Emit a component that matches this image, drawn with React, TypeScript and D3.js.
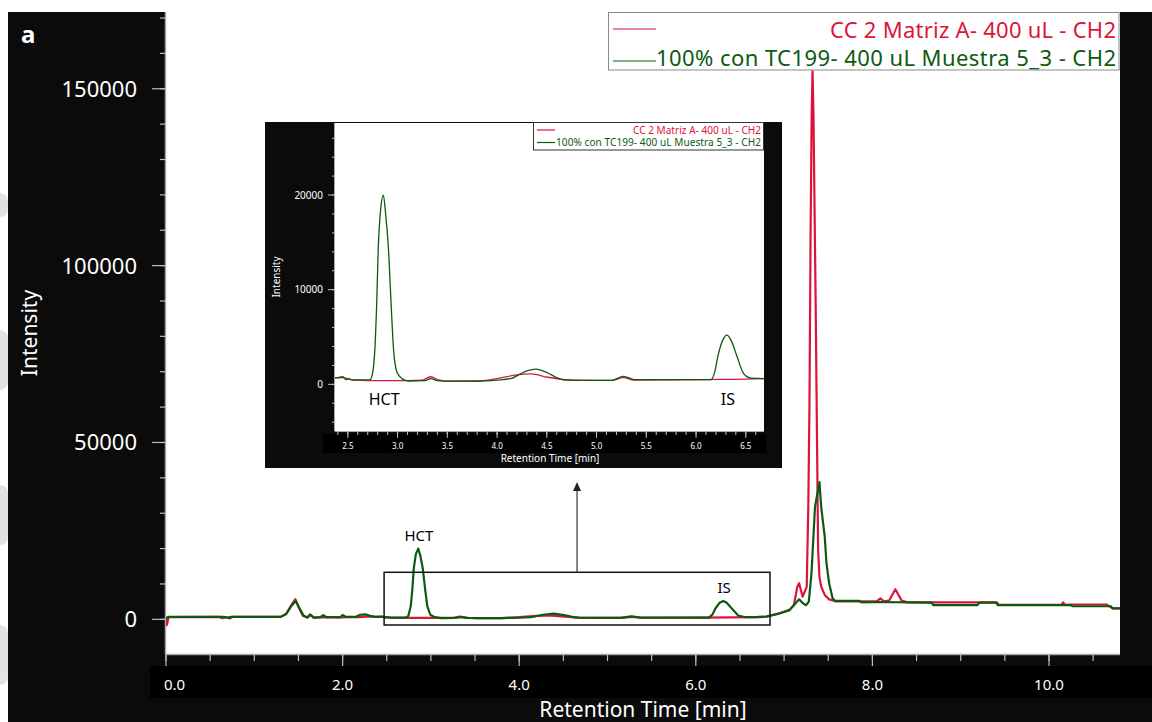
import React from "react";
import * as d3 from "d3";

// ---- data: [retention time (min), intensity] ----
const ccMatrizA: [number, number][] = [
  [0.0, 0], [0.01, -1600], [0.03, 600], [0.6, 700], [0.64, 300], [0.68, 600], [0.72, 250], [0.76, 700],
  [1.3, 700], [1.36, 1500], [1.42, 4000], [1.465, 5700], [1.5, 3500], [1.55, 1000], [1.6, 500],
  [1.64, 1200], [1.68, 500], [1.8, 600], [1.95, 500], [2.05, 600], [2.2, 600], [2.28, 800],
  [2.37, 680], [2.45, 700], [2.55, 450], [2.7, 400], [3.1, 400], [3.25, 450], [3.33, 800],
  [3.42, 450], [3.52, 330], [3.8, 330], [4.0, 600], [4.2, 1000], [4.34, 1100], [4.51, 750],
  [4.68, 500], [4.85, 420], [5.15, 420], [5.27, 700], [5.38, 450], [6.1, 500], [6.68, 600],
  [6.8, 800], [6.95, 1700], [7.06, 2600], [7.11, 4000], [7.15, 9200], [7.17, 10200], [7.19, 8300],
  [7.21, 6400], [7.256, 9200], [7.274, 31800], [7.287, 60000], [7.3, 110000], [7.312, 142000],
  [7.322, 155000], [7.333, 142000], [7.358, 88000], [7.375, 45000], [7.385, 20000], [7.4, 12000],
  [7.42, 9200], [7.46, 6900], [7.51, 5650], [7.58, 5100], [7.85, 5100], [8.05, 5100], [8.09, 5900],
  [8.13, 5100], [8.19, 5300], [8.26, 8500], [8.33, 5300], [8.4, 4800], [8.67, 4800], [9.41, 4800],
  [9.43, 4100], [10.14, 4100], [10.16, 4800], [10.18, 4100], [10.26, 4200], [10.65, 4200],
  [10.72, 3100], [10.81, 3100],
];

const muestra53: [number, number][] = [
  [0.0, 0], [0.02, 700], [0.65, 700], [0.7, 500], [0.74, 700], [1.3, 700], [1.36, 1500],
  [1.42, 3800], [1.47, 5200], [1.51, 3200], [1.56, 1000], [1.6, 500], [1.63, 1400], [1.67, 500],
  [1.75, 600], [1.78, 1200], [1.82, 600], [1.98, 700], [2.0, 1200], [2.04, 700], [2.15, 700],
  [2.2, 1300], [2.26, 1400], [2.31, 1000], [2.37, 680], [2.45, 800], [2.48, 500], [2.51, 600],
  [2.54, 470], [2.72, 470], [2.745, 1000], [2.772, 3750], [2.79, 8500], [2.806, 14400],
  [2.83, 18500], [2.857, 20000], [2.88, 18000], [2.908, 14400], [2.935, 8500], [2.959, 3750],
  [2.993, 1300], [3.044, 600], [3.112, 350], [3.28, 400],
  [3.33, 600], [3.4, 400], [3.52, 330], [3.8, 350], [4.0, 450], [4.135, 600], [4.27, 1300],
  [4.39, 1600], [4.51, 1200], [4.61, 650], [4.68, 450], [5.15, 420], [5.27, 850], [5.38, 500],
  [6.15, 500], [6.19, 1400], [6.22, 3000], [6.27, 4700], [6.31, 5200], [6.35, 4700], [6.41, 3000],
  [6.48, 1100], [6.55, 650], [6.68, 600],
  [6.8, 750], [6.95, 1700], [7.06, 2600], [7.11, 4000], [7.17, 5650], [7.21, 4600], [7.25, 4000],
  [7.28, 5000], [7.31, 13000], [7.35, 31800], [7.4, 38800], [7.42, 31800], [7.46, 23400],
  [7.48, 15800], [7.51, 10200], [7.55, 5900], [7.58, 5200], [7.85, 5200], [7.88, 4800],
  [8.05, 4900], [8.67, 4700], [8.69, 4000], [9.19, 4000], [9.21, 4700], [9.4, 4700], [9.42, 4000],
  [10.25, 4000], [10.27, 3700], [10.7, 3700], [10.72, 3100], [10.81, 3100],
];

const seriesNames = ["CC 2 Matriz A- 400 uL - CH2", "100% con TC199- 400 uL Muestra 5_3 - CH2"];
const xMajorTicks = [0, 2, 4, 6, 8, 10];
const yMajorTicks = [0, 50000, 100000, 150000];
const insetXLabels = [2.5, 3.0, 3.5, 4.0, 4.5, 5.0, 5.5, 6.0, 6.5];
const insetYLabels = [0, 10000, 20000];
const peaks = [
  { name: "HCT", time: 2.865, height: 20000 },
  { name: "IS", time: 6.32, height: 5200 },
];
// zoomed window marked on the full run
const zoomWindow = { t0: 2.47, t1: 6.84, v0: -1600, v1: 13300 };

const RED = "#dc143c";
const GREEN = "#0c5a10";
const PANEL = "#0b0b0b";
const FONT = "'Noto Sans', 'DejaVu Sans', sans-serif";

export default function App() {
  const W = 1152;
  const H = 722;

  // main chart scales
  const x = d3.scaleLinear().domain([0, 10.804]).range([166, 1120]);
  const y = d3.scaleLinear().domain([-9800, 171700]).range([654, 12]);
  const line = d3
    .line<[number, number]>()
    .x((d) => x(d[0]))
    .y((d) => y(d[1]));

  // inset scales
  const ix = d3.scaleLinear().domain([2.371, 6.683]).range([335, 764]);
  const iy = d3.scaleLinear().domain([-4930, 27610]).range([431, 123]);
  const iline = d3
    .line<[number, number]>()
    .x((d) => ix(d[0]))
    .y((d) => iy(d[1]))
    .curve(d3.curveMonotoneX);

  const [px0, px1] = x.range();
  const [py0, py1] = [y.range()[1], y.range()[0]];
  const [ipx0, ipx1] = ix.range();
  const [ipy0, ipy1] = [iy.range()[1], iy.range()[0]];

  const xMinor = d3.range(0, 10.81, 0.5);
  const yMinor = d3.range(0, 170001, 10000);
  const ixMinor = d3.range(2.4, 6.69, 0.1);
  const iyMinor = d3.range(-4000, 27000, 2000);

  const rx0 = x(zoomWindow.t0);
  const rx1 = x(zoomWindow.t1);
  const ry0 = y(zoomWindow.v1);
  const ry1 = y(zoomWindow.v0);
  const arrowX = (rx0 + rx1) / 2;
  const insetBottom = 468;

  return (
    <svg
      width={W}
      height={H}
      style={{ position: "absolute", left: 0, top: 0, display: "block", background: "#fff" }}
    >
      <defs>
        <clipPath id="mainClip">
          <rect x={px0} y={py0} width={px1 - px0} height={py1 - py0} />
        </clipPath>
        <clipPath id="insetClip">
          <rect x={ipx0} y={ipy0} width={ipx1 - ipx0} height={ipy1 - ipy0} />
        </clipPath>
      </defs>

      {/* dark frame around the plot */}
      <rect x={8} y={12} width={W - 8} height={H - 12} fill={PANEL} />
      <rect x={150} y={666} width={W - 150} height={32} fill="#000" />
      <rect x={px0} y={py0} width={px1 - px0} height={py1 - py0} fill="#fff" />

      {/* faint marks along the left edge */}
      {[205, 360, 515, 655].map((cy, i) => (
        <rect key={i} x={-8} y={cy - (i === 0 ? 12 : 30)} width={16} height={i === 0 ? 24 : 60} rx={8}
          fill="#d6d6d6" opacity={0.7} />
      ))}

      <text x={21} y={43} fill="#fff" fontFamily={FONT} fontWeight="bold" fontSize={24}>a</text>

      {/* y axis */}
      <line x1={px0 - 0.5} x2={px0 - 0.5} y1={py0} y2={py1} stroke="#a8a8a8" strokeWidth={1.5} />
      {yMinor.map((v) => (
        <line key={"ym" + v} x1={px0 - 6} x2={px0} y1={y(v)} y2={y(v)} stroke="#bdbdbd" strokeWidth={1.2} />
      ))}
      {yMajorTicks.map((v) => (
        <g key={"y" + v}>
          <line x1={px0 - 14} x2={px0} y1={y(v)} y2={y(v)} stroke="#bdbdbd" strokeWidth={1.2} />
          <text x={137} y={y(v)} dy="0.36em" textAnchor="end" fill="#fff" fontFamily={FONT} fontSize={22}>
            {v}
          </text>
        </g>
      ))}
      <text transform={`translate(37,333) rotate(-90)`} textAnchor="middle" fill="#fff" fontFamily={FONT} fontSize={21}>
        Intensity
      </text>

      {/* x axis */}
      <line x1={px0} x2={px1} y1={py1 + 0.5} y2={py1 + 0.5} stroke="#a8a8a8" strokeWidth={1.5} />
      {xMinor.map((t) => (
        <line key={"xm" + t} x1={x(t)} x2={x(t)} y1={py1} y2={py1 + 7} stroke="#bdbdbd" strokeWidth={1.2} />
      ))}
      {xMajorTicks.map((t, i) => (
        <g key={"x" + t}>
          <line x1={x(t)} x2={x(t)} y1={py1} y2={py1 + 12} stroke="#bdbdbd" strokeWidth={1.2} />
          <text x={i === 0 ? x(t) - 2 : x(t)} y={685} dy="0.36em" textAnchor={i === 0 ? "start" : "middle"}
            fill="#fff" fontFamily={FONT} fontSize={15}>
            {t.toFixed(1)}
          </text>
        </g>
      ))}
      <text x={643} y={717} textAnchor="middle" fill="#fff" fontFamily={FONT} fontSize={21}>
        Retention Time [min]
      </text>

      {/* chromatograms */}
      <g clipPath="url(#mainClip)" fill="none" strokeLinejoin="round">
        <path d={line(ccMatrizA) || ""} stroke={RED} strokeWidth={2.2} />
        <path d={line(muestra53) || ""} stroke={GREEN} strokeWidth={2.2} />
      </g>

      {/* peak names */}
      {peaks.map((p) => (
        <text key={p.name} x={x(p.time)} y={y(p.height) - 13} dy="0.36em" textAnchor="middle"
          fill="#000" fontFamily={FONT} fontSize={15}>
          {p.name}
        </text>
      ))}

      {/* zoom window and pointer */}
      <rect x={rx0} y={ry0} width={rx1 - rx0} height={ry1 - ry0} fill="none" stroke="#111" strokeWidth={1.5} />
      <line x1={arrowX} x2={arrowX} y1={ry0} y2={insetBottom + 20} stroke="#333" strokeWidth={1.2} />
      <path d={`M${arrowX},${insetBottom + 14} l-4,9 l8,0 z`} fill="#222" />

      {/* legend */}
      <rect x={608.5} y={12.5} width={510.5} height={57.5} fill="#fff" stroke="#8a8a8a" strokeWidth={1} />
      <line x1={613} x2={656} y1={29} y2={29} stroke="#e4899a" strokeWidth={2} />
      <line x1={613} x2={656} y1={61} y2={61} stroke={GREEN} strokeWidth={1.2} />
      <text x={1116} y={37.5} textAnchor="end" fill={RED} fontFamily={FONT} fontSize={22}
        textLength={286} lengthAdjust="spacing">
        {seriesNames[0]}
      </text>
      <text x={1116} y={65.5} textAnchor="end" fill={GREEN} fontFamily={FONT} fontSize={22}
        textLength={460} lengthAdjust="spacing">
        {seriesNames[1]}
      </text>

      {/* inset: zoom of the analyte region */}
      <rect x={265} y={122} width={517} height={insetBottom - 122} fill={PANEL} />
      <rect x={ipx0 - 12} y={434} width={ipx1 - ipx0 + 14} height={19} fill="#000" />
      <rect x={ipx0} y={ipy0} width={ipx1 - ipx0} height={ipy1 - ipy0} fill="#fff" />
      <line x1={ipx0 - 0.5} x2={ipx0 - 0.5} y1={ipy0} y2={ipy1} stroke="#a8a8a8" strokeWidth={1} />
      <line x1={ipx0} x2={ipx1} y1={ipy1 + 0.5} y2={ipy1 + 0.5} stroke="#a8a8a8" strokeWidth={1} />
      {iyMinor.map((v) => (
        <line key={"iym" + v} x1={ipx0 - 3} x2={ipx0} y1={iy(v)} y2={iy(v)} stroke="#bdbdbd" strokeWidth={1} />
      ))}
      {insetYLabels.map((v) => (
        <g key={"iy" + v}>
          <line x1={ipx0 - 7} x2={ipx0} y1={iy(v)} y2={iy(v)} stroke="#bdbdbd" strokeWidth={1} />
          <text x={323} y={iy(v)} dy="0.36em" textAnchor="end" fill="#fff" fontFamily={FONT} fontSize={10}>
            {v}
          </text>
        </g>
      ))}
      {ixMinor.map((t) => (
        <line key={"ixm" + t.toFixed(1)} x1={ix(t)} x2={ix(t)} y1={ipy1} y2={ipy1 + 4} stroke="#bdbdbd" strokeWidth={1} />
      ))}
      {insetXLabels.map((t) => (
        <g key={"ix" + t}>
          <line x1={ix(t)} x2={ix(t)} y1={ipy1} y2={ipy1 + 7} stroke="#bdbdbd" strokeWidth={1} />
          <text x={ix(t)} y={446.5} dy="0.36em" textAnchor="middle" fill="#fff" fontFamily={FONT} fontSize={8}>
            {t.toFixed(1)}
          </text>
        </g>
      ))}
      <text x={550} y={458.5} dy="0.36em" textAnchor="middle" fill="#fff" fontFamily={FONT} fontSize={10}>
        Retention Time [min]
      </text>
      <text transform={`translate(280,277) rotate(-90)`} textAnchor="middle" fill="#fff" fontFamily={FONT} fontSize={10}>
        Intensity
      </text>
      <g clipPath="url(#insetClip)" fill="none" strokeLinejoin="round">
        <path d={iline(ccMatrizA) || ""} stroke={RED} strokeWidth={1.3} />
        <path d={iline(muestra53) || ""} stroke={GREEN} strokeWidth={1.3} />
      </g>
      {peaks.map((p) => (
        <text key={"i" + p.name} x={ix(p.time)} y={399.5} dy="0.36em" textAnchor="middle"
          fill="#000" fontFamily={FONT} fontSize={16}>
          {p.name}
        </text>
      ))}
      <rect x={533.5} y={122.5} width={230} height={27.5} fill="#fff" stroke="#333" strokeWidth={1} />
      <line x1={537} x2={555} y1={130} y2={130} stroke={RED} strokeWidth={1.2} />
      <line x1={537} x2={555} y1={142.5} y2={142.5} stroke={GREEN} strokeWidth={1.2} />
      <text x={761} y={133.5} textAnchor="end" fill={RED} fontFamily={FONT} fontSize={10}
        textLength={128} lengthAdjust="spacing">
        {seriesNames[0]}
      </text>
      <text x={761} y={146} textAnchor="end" fill={GREEN} fontFamily={FONT} fontSize={10}
        textLength={205} lengthAdjust="spacing">
        {seriesNames[1]}
      </text>
    </svg>
  );
}
